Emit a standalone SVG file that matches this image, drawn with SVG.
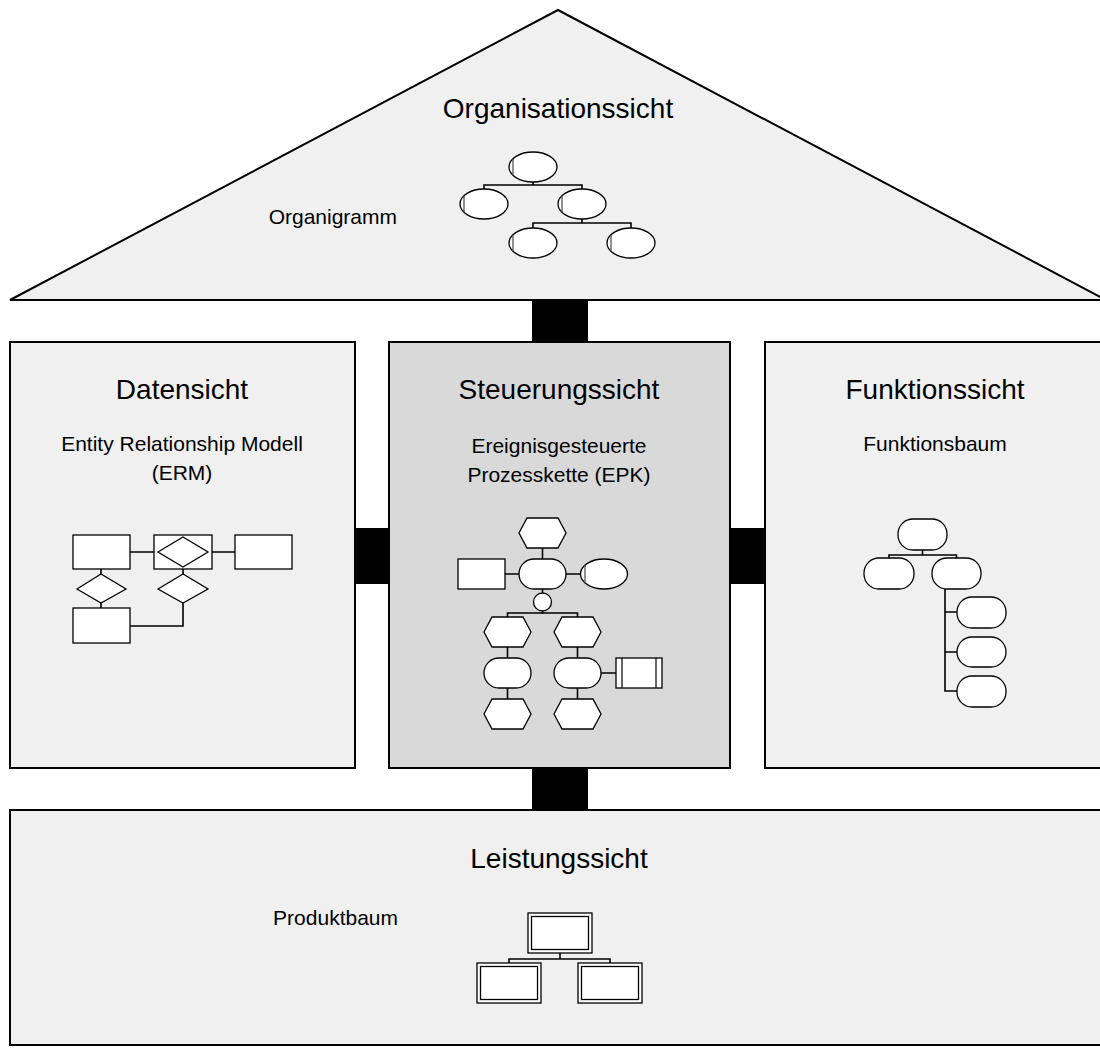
<svg xmlns="http://www.w3.org/2000/svg" width="1100" height="1055" viewBox="0 0 1100 1055">
<style>
.view{fill:#f0f0f0;stroke:#000;stroke-width:2}
.ctrl{fill:#d9d9d9;stroke:#000;stroke-width:2}
.bar{fill:#000}
.title{font-family:"Liberation Sans",Arial,sans-serif;font-size:28px;fill:#000;text-anchor:middle}
.sub{font-family:"Liberation Sans",Arial,sans-serif;font-size:21px;fill:#000;text-anchor:middle}
.lbl{font-family:"Liberation Sans",Arial,sans-serif;font-size:21px;fill:#000;text-anchor:end}
.sym{fill:#fff;stroke:#000;stroke-width:1.3}
.ln{fill:none;stroke:#000;stroke-width:1.6}
.gl{fill:none;stroke:#555;stroke-width:1.3}
</style>
<rect width="1100" height="1055" fill="#fff"/>

<g id="connectors">
<rect class="bar" x="532" y="300" width="56" height="42"/>
<rect class="bar" x="355" y="528" width="34" height="56"/>
<rect class="bar" x="730" y="528" width="35" height="56"/>
<rect class="bar" x="532" y="768" width="56" height="42"/>
</g>

<g id="organisationssicht">
<polygon class="view" points="558,10 10,300 1106,300"/>
<text class="title" x="558" y="118">Organisationssicht</text>
<text class="lbl" x="397" y="224">Organigramm</text>
<g>
<path class="ln" d="M533,182 V185 M484,189 V185 H582 V189 M582,219 V223 M533,228 V223 H631 V228"/>
<ellipse class="sym" cx="533" cy="167" rx="24" ry="15"/>
<ellipse class="sym" cx="484" cy="204" rx="24" ry="15"/>
<ellipse class="sym" cx="582" cy="204" rx="24" ry="15"/>
<ellipse class="sym" cx="533" cy="243" rx="24" ry="15"/>
<ellipse class="sym" cx="631" cy="243" rx="24" ry="15"/>
<path class="gl" d="M513,159 V175 M464,196 V212 M562,196 V212 M513,235 V251 M611,235 V251"/>
</g>
</g>

<g id="datensicht">
<rect class="view" x="10" y="342" width="345" height="426"/>
<text class="title" x="182" y="399">Datensicht</text>
<text class="sub" x="182" y="451">Entity Relationship Modell</text>
<text class="sub" x="182" y="480">(ERM)</text>
<path class="ln" d="M130,552 H158 M208,552 H235 M101,569 V574 M101,603 V608 M183,569 V574 M183,603 V626 H130"/>
<rect class="sym" x="73" y="535" width="57" height="34"/>
<rect class="sym" x="154" y="535" width="58" height="34"/>
<polygon class="sym" points="158,552 183,537 208,552 183,567"/>
<rect class="sym" x="235" y="535" width="57" height="34"/>
<polygon class="sym" points="77,589 101,574 126,589 101,603"/>
<polygon class="sym" points="158,589 183,574 208,589 183,603"/>
<rect class="sym" x="73" y="608" width="57" height="35"/>
</g>

<g id="steuerungssicht">
<rect class="ctrl" x="389" y="342" width="341" height="426"/>
<text class="title" x="559" y="399">Steuerungssicht</text>
<text class="sub" x="559" y="453">Ereignisgesteuerte</text>
<text class="sub" x="559" y="482">Prozesskette (EPK)</text>
<path class="ln" d="M542.5,548 V559 M505,574 H519 M566,574 H581 M542.5,589 V593 M542.5,611 V614 M507.5,617 V613 H577.5 V617 M507.5,647 V658 M577.5,647 V658 M507.5,688 V699 M577.5,688 V699 M601,673 H616"/>
<polygon class="sym" points="519,533 527,518 558,518 566,533 558,548 527,548"/>
<rect class="sym" x="519" y="559" width="47" height="30" rx="15"/>
<rect class="sym" x="458" y="559" width="47" height="30"/>
<ellipse class="sym" cx="604" cy="574" rx="23.5" ry="15"/>
<path class="gl" d="M585,565 V583"/>
<circle class="sym" cx="542.5" cy="602" r="9"/>
<polygon class="sym" points="484,632 492,617 523,617 531,632 523,647 492,647"/>
<polygon class="sym" points="554,632 562,617 593,617 601,632 593,647 562,647"/>
<rect class="sym" x="484" y="658" width="47" height="30" rx="15"/>
<rect class="sym" x="554" y="658" width="47" height="30" rx="15"/>
<polygon class="sym" points="484,714 492,699 523,699 531,714 523,729 492,729"/>
<polygon class="sym" points="554,714 562,699 593,699 601,714 593,729 562,729"/>
<rect class="sym" x="616" y="658" width="46" height="30"/>
<path class="ln" d="M622,658 V688 M656,658 V688" style="stroke-width:1.2"/>
</g>

<g id="funktionssicht">
<rect class="view" x="765" y="342" width="345" height="426"/>
<text class="title" x="935" y="399">Funktionssicht</text>
<text class="sub" x="935" y="451">Funktionsbaum</text>
<path class="ln" d="M922.5,550 V555 M889,558 V555 H956.5 V558 M945,589 V691 H957 M945,612 H957 M945,652 H957"/>
<rect class="sym" x="898" y="519" width="49" height="31" rx="15"/>
<rect class="sym" x="864" y="558" width="50" height="31" rx="15"/>
<rect class="sym" x="932" y="558" width="49" height="31" rx="15"/>
<rect class="sym" x="957" y="597" width="49" height="31" rx="15"/>
<rect class="sym" x="957" y="637" width="49" height="30" rx="15"/>
<rect class="sym" x="957" y="676" width="49" height="31" rx="15"/>
</g>

<g id="leistungssicht">
<rect class="view" x="10" y="810" width="1100" height="235"/>
<text class="title" x="559" y="868">Leistungssicht</text>
<text class="lbl" x="398" y="925">Produktbaum</text>
<path class="ln" d="M560,953 V959 M509,963 V959 H610 V963"/>
<rect class="sym" x="528" y="913" width="64" height="40"/>
<rect class="sym" x="531.5" y="916.5" width="57" height="33"/>
<rect class="sym" x="477" y="963" width="64" height="40"/>
<rect class="sym" x="480.5" y="966.5" width="57" height="33"/>
<rect class="sym" x="578" y="963" width="64" height="40"/>
<rect class="sym" x="581.5" y="966.5" width="57" height="33"/>
</g>
</svg>
